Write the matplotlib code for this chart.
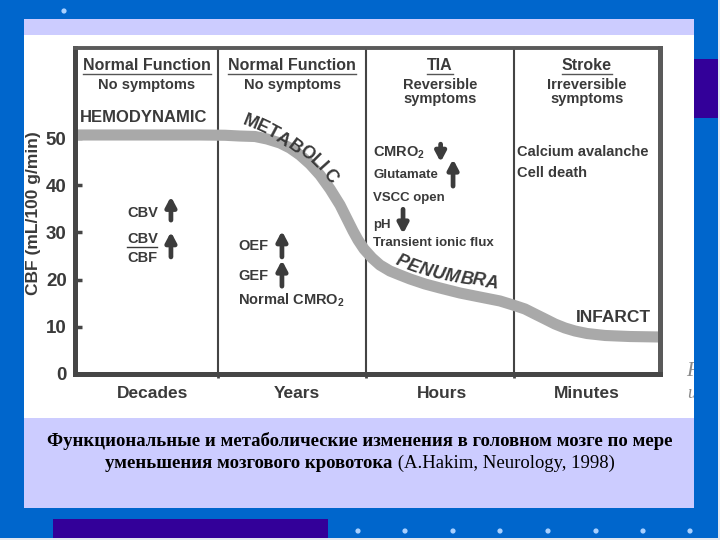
import matplotlib
matplotlib.use("Agg")
import matplotlib.pyplot as plt
from matplotlib.patches import Rectangle, Ellipse
from matplotlib.lines import Line2D

# ---------------------------------------------------------------------------
# data
# ---------------------------------------------------------------------------
stages = ["Decades", "Years", "Hours", "Minutes"]
stage_label_x = [0.527, 1.518, 2.509, 3.50]
stage_titles = ["Normal Function", "Normal Function", "TIA", "Stroke"]
stage_subtitles = ["No symptoms", "No symptoms", "Reversible\nsymptoms", "Irreversible\nsymptoms"]
dividers = [0.98, 1.99, 3.0]
yticks = [0, 10, 20, 30, 40, 50]

# CBF course (stage axis 0..4, mL/100 g/min)
curve_x = [0.000, 0.513, 0.855, 1.026, 1.128, 1.231, 1.313, 1.402, 1.470, 1.538,
           1.607, 1.675, 1.744, 1.812, 1.860, 1.901, 1.935, 1.976, 2.031, 2.085,
           2.154, 2.222, 2.291, 2.393, 2.496, 2.632, 2.769, 2.906, 2.995, 3.077,
           3.145, 3.214, 3.282, 3.350, 3.419, 3.501, 3.624, 3.795, 4.000]
curve_y = [50.64, 50.64, 50.64, 50.58, 50.42, 50.32, 49.79, 48.94, 47.88, 46.40,
           44.49, 42.16, 39.19, 35.81, 32.84, 30.30, 28.39, 26.48, 24.58, 23.09,
           21.82, 20.97, 20.13, 19.07, 18.22, 17.16, 16.31, 15.47, 14.62, 13.77,
           12.71, 11.65, 10.59, 9.75, 9.11, 8.58, 8.16, 7.94, 7.84]

caption_1 = "Функциональные и метаболические изменения в головном мозге по мере"
caption_2_bold = "уменьшения мозгового кровотока"
caption_2_reg = " (A.Hakim, Neurology, 1998)"

# ---------------------------------------------------------------------------
plt.rcParams["font.family"] = ["Liberation Sans", "DejaVu Sans"]
plt.rcParams["font.weight"] = "bold"
plt.rcParams["mathtext.fontset"] = "custom"
plt.rcParams["mathtext.rm"] = "Liberation Sans:bold"
plt.rcParams["mathtext.bf"] = "Liberation Sans:bold"

BLUE = "#0066cc"
LAV = "#ccccff"
PURPLE = "#330099"
INK = "#3a3a3a"
W, H = 720, 540

fig = plt.figure(figsize=(7.2, 5.4), dpi=100, facecolor=BLUE)


def px_rect(x0, y0, x1, y1, color, z=1):
    fig.patches.append(Rectangle((x0 / W, 1 - y1 / H), (x1 - x0) / W, (y1 - y0) / H,
                                 transform=fig.transFigure, color=color, lw=0, zorder=z))


def px_dot(x, y, r=2.6, color="#a8d0ff"):
    fig.patches.append(Ellipse((x / W, 1 - y / H), 2 * r / W, 2 * r / H,
                               transform=fig.transFigure, color=color, lw=0, zorder=6))


# slide decoration
px_rect(24, 19, 694, 508, LAV)
px_rect(24, 35, 694, 418, "white")
fig.text(686 / W, 1 - 371 / H, "F", fontsize=15, style="italic", weight="normal",
         family="Liberation Serif", color="#8a8a8a", ha="left", va="center", zorder=2)
fig.text(687 / W, 1 - 394 / H, "u", fontsize=13, style="italic", weight="normal",
         family="Liberation Serif", color="#8a8a8a", ha="left", va="center", zorder=2)
px_rect(694, 0, 720, 540, BLUE, z=4)
px_rect(694, 59, 718, 118, PURPLE, z=5)
px_rect(53, 519, 328, 540, PURPLE, z=5)
px_rect(718, 0, 720, 540, "#e4e8f0", z=6)
px_rect(0, 538, 720, 540, "#e4e8f0", z=6)
px_dot(64, 11)
for xd in [358, 405, 453, 500, 548, 596, 643, 690]:
    px_dot(xd, 531)

# chart
ax = fig.add_axes([75 / W, 1 - 374 / H, (660 - 75) / W, (374 - 48) / H])
ax.set_zorder(3)
ax.set_facecolor("none")
ax.set_xlim(0, 4)
ax.set_ylim(0, 69.07)
for side, lw, col in [("left", 3.6, "#464646"), ("bottom", 3.6, "#464646"),
                      ("top", 2.8, "#5a5a5a"), ("right", 3.6, "#5a5a5a")]:
    ax.spines[side].set_linewidth(lw)
    ax.spines[side].set_color(col)
for d in dividers:
    ax.axvline(d, color="#444444", lw=1.5, zorder=1)

ax.set_yticks(yticks)
ax.tick_params(axis="y", direction="in", length=5, width=2.5, color="#464646",
               pad=6, labelsize=13.5, labelcolor=INK)
ax.set_xticks(stage_label_x, stages)
ax.tick_params(axis="x", length=0, pad=9, labelsize=12.5, labelcolor=INK)
ax.set_xticks(dividers, minor=True)
ax.tick_params(axis="x", which="minor", direction="out", length=3, width=2, color="#464646")

fig.text(34 / W, 1 - 213 / H, "CBF (mL/100 g/min)", rotation=90, ha="center", va="center",
         fontsize=12.5, color=INK, zorder=3)

ax.plot(curve_x, curve_y, color="#a9a9a9", lw=8.0, solid_capstyle="butt",
        solid_joinstyle="round", zorder=2)

# headers
centers = [(a + b) / 2 for a, b in zip([0] + dividers, dividers + [4])]
titles = []
for cx, t, s in zip(centers, stage_titles, stage_subtitles):
    titles.append(ax.text(cx, 65.3, t, ha="center", va="center", fontsize=11.5, color=INK))
    ax.text(cx, 62.7, s, ha="center", va="top", fontsize=10.5, color=INK,
            linespacing=0.95)

ax.text(0.034, 54.4, "HEMODYNAMIC", ha="left", va="center", fontsize=12, color=INK)
ax.text(3.685, 11.9, "INFARCT", ha="center", va="center", fontsize=12.5, color=INK)

metabolic = [("M", 1.20, 53.2, -22), ("E", 1.28, 52.2, -25), ("T", 1.35, 51.1, -28),
             ("A", 1.42, 49.7, -33), ("B", 1.50, 48.1, -37), ("O", 1.58, 46.7, -41),
             ("L", 1.645, 45.0, -45), ("I", 1.69, 43.8, -48), ("C", 1.745, 41.8, -52)]
for ch, x, y, r in metabolic:
    ax.text(x, y, ch, rotation=r, ha="center", va="center", fontsize=13, color=INK,
            rotation_mode="anchor")
penumbra = [("P", 2.233, 23.8, -22), ("E", 2.313, 22.7, -20), ("N", 2.393, 21.9, -17),
            ("U", 2.484, 21.1, -14), ("M", 2.576, 20.6, -11), ("B", 2.678, 20.1, -9),
            ("R", 2.758, 19.8, -8), ("A", 2.850, 19.3, -7)]
for ch, x, y, r in penumbra:
    ax.text(x, y, ch, rotation=r, ha="center", va="center", fontsize=13, color=INK,
            rotation_mode="anchor", style="italic")

small = dict(ha="left", va="center", color=INK)
ax.text(0.356, 34.1, "CBV", fontsize=10.5, **small)
ax.text(0.356, 28.6, "CBV", fontsize=10.5, **small)
ax.plot([0.356, 0.56], [26.9, 26.9], color=INK, lw=1.0)
ax.text(0.356, 24.6, "CBF", fontsize=10.5, **small)
ax.text(1.115, 27.1, "OEF", fontsize=10.5, **small)
ax.text(1.115, 20.8, "GEF", fontsize=10.5, **small)
ax.text(1.115, 15.7, r"Normal CMRO$_\mathbf{2}$", fontsize=10.5, **small)
ax.text(2.04, 47.0, r"CMRO$_\mathbf{2}$", fontsize=10.5, **small)
ax.text(2.04, 42.2, "Glutamate", fontsize=9.5, **small)
ax.text(2.04, 37.3, "VSCC open", fontsize=9.5, **small)
ax.text(2.04, 31.6, "pH", fontsize=9.5, **small)
ax.text(2.04, 27.8, "Transient ionic flux", fontsize=9.5, **small)
ax.text(3.02, 47.0, "Calcium avalanche", fontsize=10.5, **small)
ax.text(3.02, 42.6, "Cell death", fontsize=10.5, **small)

arrow = dict(arrowstyle="-|>,head_width=0.17,head_length=0.32", lw=3.4, color="#3c3c3c",
             shrinkA=0, shrinkB=0, mutation_scale=18)
for x, y0, y1 in [(0.656, 32.6, 37.6), (0.656, 24.8, 30.1), (1.415, 24.8, 30.3),
                  (1.415, 18.6, 24.1), (2.50, 48.7, 44.9), (2.585, 39.8, 45.5),
                  (2.243, 34.9, 29.7)]:
    ax.annotate("", xy=(x, y1), xytext=(x, y0), arrowprops=arrow)

# caption
cap_kw = dict(family="Liberation Serif", fontsize=13.5, color="black", va="center", zorder=3)
fig.text(0.5, 1 - 441 / H, caption_1, ha="center", weight="bold", **cap_kw)
t_b = fig.text(0, 1 - 463 / H, caption_2_bold, ha="left", weight="bold", **cap_kw)
t_r = fig.text(0, 1 - 463 / H, caption_2_reg, ha="left", weight="normal", **cap_kw)

fig.canvas.draw()
rend = fig.canvas.get_renderer()
wb = t_b.get_window_extent(rend).width
wr = t_r.get_window_extent(rend).width
x0 = (W - wb - wr) / 2
t_b.set_x(x0 / W)
t_r.set_x((x0 + wb) / W)

# underline the stage titles
for t in titles:
    bb = t.get_window_extent(rend)
    fig.lines.append(Line2D([bb.x0 / W, bb.x1 / W], [(bb.y0 - 1) / H] * 2,
                            transform=fig.transFigure, color="#555555", lw=1.0, zorder=4))

fig.savefig("out.png", dpi=100, facecolor=BLUE)
